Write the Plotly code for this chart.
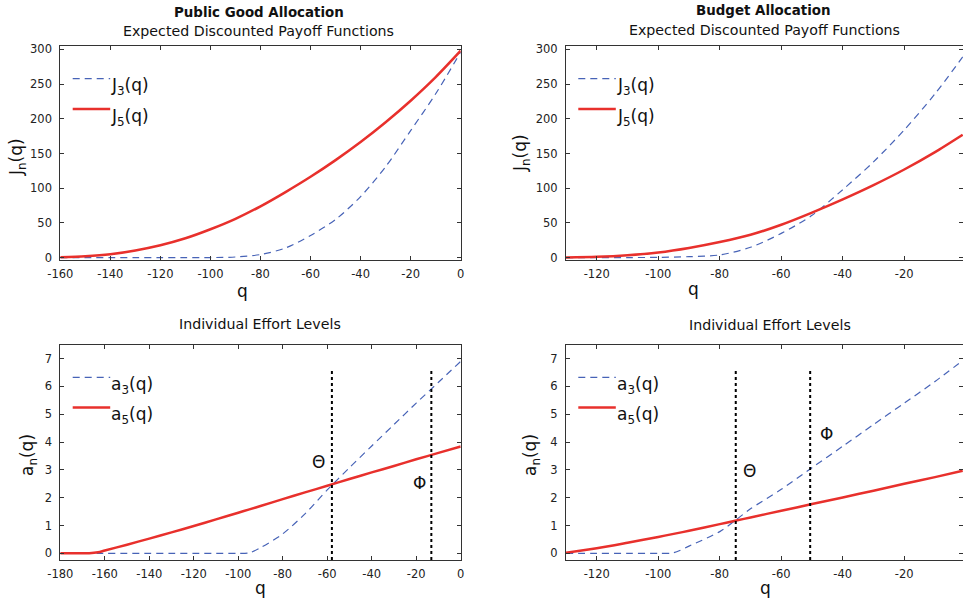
import plotly.graph_objects as go

W, H = 963, 600
FONT = "DejaVu Sans"
BLUE = "#4763b7"
RED = "#e8302c"
INK = "#222222"

# ---------------- data ----------------
# Public Good Allocation: expected discounted payoff
q_tl = [-160, -150, -140, -130, -120, -110, -100, -90, -80, -70, -60, -50, -40, -30, -20, -10, 0]
J3_tl = [0, 0, 0, 0, 0, 0, 0.2, 1, 4.5, 14, 32, 55, 88, 131, 183, 236, 296]
J5_tl = [0.5, 2, 5, 10.5, 18, 28, 41, 56, 74, 94.5, 116.5, 140.5, 166.5, 195, 226, 260, 298]

# Budget Allocation: expected discounted payoff
q_tr = [-130, -120, -110, -100, -90, -80, -70, -60, -50, -40, -30, -20, -10, -1]
J3_tr = [0, 0, 0.2, 0.5, 1.5, 4, 15, 35, 61, 98, 138, 184, 236, 289]
J5_tr = [0.3, 1.2, 3.5, 7.5, 14, 22.5, 33, 47.5, 65, 84, 104.5, 127, 152, 177]

# Public Good Allocation: individual effort levels
q_bl = [-180, -170, -167, -163, -160, -150, -140, -130, -120, -110, -100, -95, -90, -80,
        -70, -60, -50, -40, -30, -20, -10, 0]
a3_bl = [0, 0, 0, 0, 0, 0, 0, 0, 0, 0, 0, 0.02, 0.2, 0.7, 1.42, 2.28, 3.08, 3.86, 4.63,
         5.4, 6.15, 6.9]
a5_bl = [0, 0, 0, 0.035, 0.1, 0.31, 0.53, 0.755, 0.98, 1.22, 1.46, 1.58, 1.7, 1.95,
         2.19, 2.43, 2.67, 2.91, 3.14, 3.38, 3.61, 3.84]
theta_bl, phi_bl, vtop_bl = -57.9, -13.2, 6.62

# Budget Allocation: individual effort levels
q_br = [-130, -120, -110, -100, -95, -90, -80, -75, -70, -60, -50, -40, -30, -20, -10, -1]
a3_br = [0, 0, 0, 0, 0.02, 0.26, 0.78, 1.18, 1.6, 2.3, 3.08, 3.85, 4.63, 5.4, 6.18, 6.93]
a5_br = [0.02, 0.18, 0.38, 0.59, 0.70, 0.81, 1.05, 1.17, 1.29, 1.53, 1.77, 2.01, 2.25,
         2.5, 2.74, 2.97]
theta_br, phi_br, vtop_br = -74.8, -50.6, 6.59

x_ticks_tl = [-160, -140, -120, -100, -80, -60, -40, -20, 0]
x_ticks_r = [-120, -100, -80, -60, -40, -20]
x_ticks_bl = [-180, -160, -140, -120, -100, -80, -60, -40, -20, 0]
y_ticks_top = [0, 50, 100, 150, 200, 250, 300]
y_ticks_bot = [0, 1, 2, 3, 4, 5, 6, 7]


def px(x):
    return x / W


def py(y):
    return 1 - y / H


fig = go.Figure()

panels = [
    dict(n="", xd=(60.3, 460.7), yd=(46, 260), xr=[-160, 0], yr=[-3.3, 304.8],
         xt=x_ticks_tl, yt=y_ticks_top),
    dict(n="2", xd=(566, 963), yd=(46, 260), xr=[-130, -0.9], yr=[-3.3, 304.8],
         xt=x_ticks_r, yt=y_ticks_top),
    dict(n="3", xd=(60.3, 460.7), yd=(345, 560), xr=[-180, 0], yr=[-0.24, 7.49],
         xt=x_ticks_bl, yt=y_ticks_bot),
    dict(n="4", xd=(566, 963), yd=(345, 560), xr=[-130, -0.9], yr=[-0.24, 7.49],
         xt=x_ticks_r, yt=y_ticks_bot),
]

axis_common = dict(showgrid=False, zeroline=False, showline=True, linecolor="#333333",
                   linewidth=1, mirror="ticks", ticks="inside", ticklen=4,
                   tickcolor="#333333", automargin=False,
                   tickfont=dict(family=FONT, size=11.5, color=INK))

layout_axes = {}
for p in panels:
    n = p["n"]
    layout_axes["xaxis" + n] = dict(axis_common, domain=[px(p["xd"][0]), px(p["xd"][1])],
                                    range=p["xr"], tickvals=p["xt"],
                                    ticktext=[str(v) for v in p["xt"]], anchor="y" + n,
                                    ticklabelstandoff=3)
    layout_axes["yaxis" + n] = dict(axis_common, domain=[py(p["yd"][1]), py(p["yd"][0])],
                                    range=p["yr"], tickvals=p["yt"],
                                    ticktext=[str(v) for v in p["yt"]], anchor="x" + n,
                                    ticklabelstandoff=5)

series = [
    ("", q_tl, J3_tl, J5_tl),
    ("2", q_tr, J3_tr, J5_tr),
    ("3", q_bl, a3_bl, a5_bl),
    ("4", q_br, a3_br, a5_br),
]
for n, q, s3, s5 in series:
    fig.add_trace(go.Scatter(x=q, y=s3, mode="lines", xaxis="x" + n, yaxis="y" + n,
                             line=dict(color=BLUE, width=1.2, dash="7px,5px", shape="spline",
                                       smoothing=0.8),
                             showlegend=False, hoverinfo="skip"))
    fig.add_trace(go.Scatter(x=q, y=s5, mode="lines", xaxis="x" + n, yaxis="y" + n,
                             line=dict(color=RED, width=2.5, shape="spline", smoothing=0.8),
                             showlegend=False, hoverinfo="skip"))

# vertical threshold lines
for n, qv, top in [("3", theta_bl, vtop_bl), ("3", phi_bl, vtop_bl),
                   ("4", theta_br, vtop_br), ("4", phi_br, vtop_br)]:
    fig.add_trace(go.Scatter(x=[qv, qv], y=[-0.24, top], mode="lines", xaxis="x" + n,
                             yaxis="y" + n, line=dict(color="black", width=2, dash="dot"),
                             showlegend=False, hoverinfo="skip"))

annotations = []
shapes = []


def text(x, y, s, size=14.2, bold=False, angle=0, xanchor="center", yanchor="middle"):
    annotations.append(dict(x=px(x), y=py(y), xref="paper", yref="paper", text=s,
                            showarrow=False, textangle=angle, xanchor=xanchor,
                            yanchor=yanchor,
                            font=dict(family=FONT, size=size, color="#111111",
                                      weight="bold" if bold else "normal")))


# titles
text(259, 12, "Public Good Allocation", size=13.4, bold=True)
text(258, 31, "Expected Discounted Payoff Functions")
text(763, 10, "Budget Allocation", size=13.4, bold=True)
text(764, 30, "Expected Discounted Payoff Functions")
text(260, 324, "Individual Effort Levels")
text(770, 325, "Individual Effort Levels")

# axis titles
text(243, 291, "q", size=17)
text(693, 289, "q", size=17)
text(260, 588, "q", size=17)
text(765, 588, "q", size=17)
text(17, 157, "J<sub>n</sub>(q)", size=17, angle=-90)
text(521, 153, "J<sub>n</sub>(q)", size=17, angle=-90)
text(28, 455, "a<sub>n</sub>(q)", size=17, angle=-90)
text(531, 455, "a<sub>n</sub>(q)", size=17, angle=-90)

# hand-made legends
for x0, ytop, lab in [(72.7, 78.7, "J"), (578.3, 78.7, "J"), (72.7, 377.3, "a"),
                      (578.3, 377.3, "a")]:
    x1 = x0 + 37.5
    shapes.append(dict(type="line", xref="paper", yref="paper", x0=px(x0), x1=px(x1),
                       y0=py(ytop), y1=py(ytop), line=dict(color=BLUE, width=1.2,
                                                            dash="7px,5px")))
    shapes.append(dict(type="line", xref="paper", yref="paper", x0=px(x0), x1=px(x1),
                       y0=py(ytop + 30.3), y1=py(ytop + 30.3),
                       line=dict(color=RED, width=2.5)))
    text(x1 - 1, ytop + 8, lab + "<sub>3</sub>(q)", size=17, xanchor="left")
    text(x1 - 1, ytop + 38.5, lab + "<sub>5</sub>(q)", size=17, xanchor="left")

# threshold labels
for n, qx, vy, s in [("3", -64, 3.3, "Θ"), ("3", -18.6, 2.52, "Φ"),
                     ("4", -70.2, 2.97, "Θ"), ("4", -45.2, 4.28, "Φ")]:
    annotations.append(dict(x=qx, y=vy, xref="x" + n, yref="y" + n, text=s,
                            showarrow=False,
                            font=dict(family=FONT, size=17, color="#111111")))

fig.update_layout(width=W, height=H, margin=dict(l=0, r=0, t=0, b=0),
                  paper_bgcolor="white", plot_bgcolor="white", showlegend=False,
                  annotations=annotations, shapes=shapes, **layout_axes)

fig.write_html("out.html")
